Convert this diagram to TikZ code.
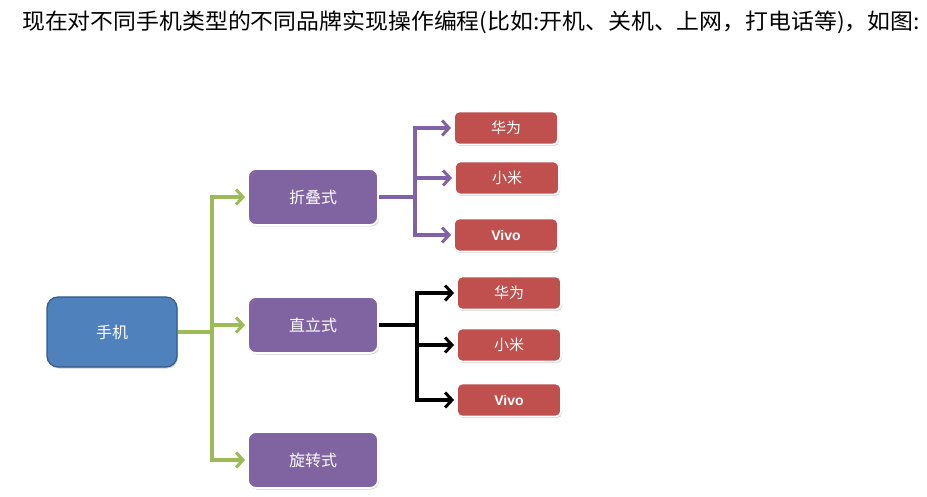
\documentclass[tikz,border=0pt]{standalone}
\usepackage{fontspec}
\newfontfamily\cjk{Noto Sans CJK SC}
\newfontfamily\latinsans{Liberation Sans}
\usetikzlibrary{arrows.meta,shadows}
\definecolor{bluefill}{HTML}{4F81BD}
\definecolor{blueedge}{HTML}{36598A}
\definecolor{purplefill}{HTML}{8064A2}
\definecolor{redfill}{HTML}{C0504D}
\definecolor{greenline}{HTML}{9BBB59}
\definecolor{purpleline}{HTML}{7F62A8}
\begin{document}
\begin{tikzpicture}[x=1pt,y=-1pt,
  box/.style={rounded corners=8pt, draw=white, line width=1.8pt, text=white,
    inner sep=0pt, align=center,
    drop shadow={shadow xshift=1pt,shadow yshift=-1.5pt,opacity=0.3,fill=black!60}},
  phonebox/.style={box, rounded corners=11pt, fill=bluefill, draw=blueedge, line width=1.2pt,
    minimum width=130pt, minimum height=70pt, font=\cjk\fontsize{16}{16}\selectfont},
  typebox/.style={box, fill=purplefill, minimum width=130pt, minimum height=56pt,
    font=\cjk\fontsize{16}{16}\selectfont},
  brandbox/.style={box, rounded corners=5pt, fill=redfill, minimum width=104pt, minimum height=33pt,
    font=\cjk\fontsize{15}{15}\selectfont},
  vivo/.style={font=\latinsans\bfseries\fontsize{14}{14}\selectfont},
  tip/.style={-{Straight Barb[length=7pt,width=15pt,line width=3pt]}},
  gl/.style={draw=greenline, line width=4.5pt},
  pl/.style={draw=purpleline, line width=4.5pt},
  bl/.style={draw=black, line width=4pt},
]
\useasboundingbox (0,0) rectangle (927,497);

\node[anchor=west, inner sep=0pt, font=\cjk\fontsize{22}{22}\selectfont] (title) at (22,22)
  {\scalebox{1.04}[1]{现在对不同手机类型的不同品牌实现操作编程(比如:开机、关机、上网，打电话等)，如图:}};

\node[phonebox] (phone) at (112,332) {手机};
\node[typebox] (fold) at (313,197) {折叠式};
\node[typebox] (stand) at (313,325) {直立式};
\node[typebox] (rot) at (313,460) {旋转式};

\node[brandbox] (h1) at (506,128) {华为};
\node[brandbox] (x1) at (507,178) {小米};
\node[brandbox, vivo] (v1) at (506,235) {Vivo};

\node[brandbox] (h2) at (509,293) {华为};
\node[brandbox] (x2) at (509,345) {小米};
\node[brandbox, vivo] (v2) at (509,400) {Vivo};

% green connectors
\coordinate (gt) at (212,332);
\draw[gl] (phone.east) -- (gt);
\draw[gl, tip] (gt) |- ([xshift=-2pt]fold.west);
\draw[gl, tip] (gt) |- ([xshift=-2pt]stand.west);
\draw[gl, tip] (gt) |- ([xshift=-2pt]rot.west);

% purple connectors
\coordinate (pt) at (415,197);
\draw[pl] (fold.east) -- (pt);
\draw[pl, tip] (pt) |- ([xshift=-2pt]h1.west);
\draw[pl, tip] (pt) |- ([xshift=-2pt]x1.west);
\draw[pl, tip] (pt) |- ([xshift=-2pt]v1.west);

% black connectors
\coordinate (bt) at (417,325);
\draw[bl] (stand.east) -- (bt);
\draw[bl, tip] (bt) |- ([xshift=-2pt]h2.west);
\draw[bl, tip] (bt) |- ([xshift=-2pt]x2.west);
\draw[bl, tip] (bt) |- ([xshift=-2pt]v2.west);
\end{tikzpicture}
\end{document}
